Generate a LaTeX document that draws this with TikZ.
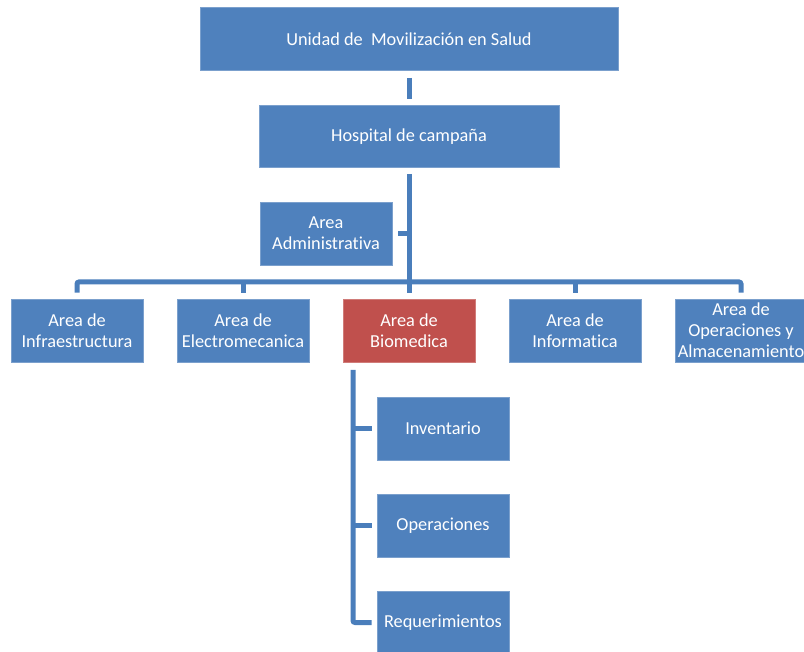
\documentclass[tikz,border=0pt]{standalone}
\usepackage{fontspec}
\setmainfont{Carlito}[Ligatures=NoCommon]
\usetikzlibrary{calc}
\definecolor{boxblue}{HTML}{4F81BD}
\definecolor{boxred}{HTML}{C0504D}
\definecolor{linkblue}{HTML}{4A7EBB}
\tikzset{
  unitbox/.style={fill=boxblue, draw=boxblue!75!white, line width=0.8pt, text=white,
    align=center, inner sep=0pt, minimum width=132, minimum height=63,
    font=\fontsize{18.3}{20.8}\selectfont},
  link/.style={draw=linkblue, line width=5pt},
}

\begin{document}
\begin{tikzpicture}[x=1pt,y=-1pt]
\useasboundingbox (0,0) rectangle (804,652);
% top levels
\node[unitbox, minimum width=418] (ums) at (409,39) {Unidad de \ Movilización en Salud};
\node[unitbox, minimum width=300, minimum height=62] (hosp) at (409,136.5) {Hospital de campaña};
\node[unitbox] (adm) at (326,233.5) {Area\\Administrativa};
% areas
\node[unitbox] (infra) at (77,330.5) {Area de\\Infraestructura};
\node[unitbox] (electro) at (243,330.5) {Area de\\Electromecanica};
\node[unitbox, fill=boxred, draw=boxred!75!white] (bio) at (409,330.5) {Area de\\Biomedica};
\node[unitbox] (info) at (575,330.5) {Area de\\Informatica};
\node[unitbox] (oper) at (741,330.5) {Area de\\Operaciones y\\Almacenamiento};
% biomedica
\node[unitbox] (inv) at (443,428.5) {Inventario};
\node[unitbox] (ops) at (443,525.5) {Operaciones};
\node[unitbox] (req) at (443,622.5) {Requerimientos};

% connectors
\coordinate (bus) at (409,282);
\coordinate (trunk) at (353,370);
\draw[link] ([yshift=-7pt]ums.south) -- ([yshift=6pt]hosp.north);
\draw[link] ([yshift=-6pt]hosp.south) -- (bus);
\draw[link] ([xshift=6pt]adm.east) -- (adm.east -| bus);
\draw[link, rounded corners=2pt] ([yshift=6pt]infra.north) |- (bus) -| ([yshift=6pt]oper.north);
\foreach \n in {electro,bio,info}
  \draw[link] (bus -| \n.north) -- ([yshift=6pt]\n.north);
\draw[link, rounded corners=2pt] (trunk) |- ([xshift=-5pt]req.west);
\foreach \n in {inv,ops}
  \draw[link] (trunk |- \n.west) -- ([xshift=-5pt]\n.west);
\end{tikzpicture}
\end{document}
